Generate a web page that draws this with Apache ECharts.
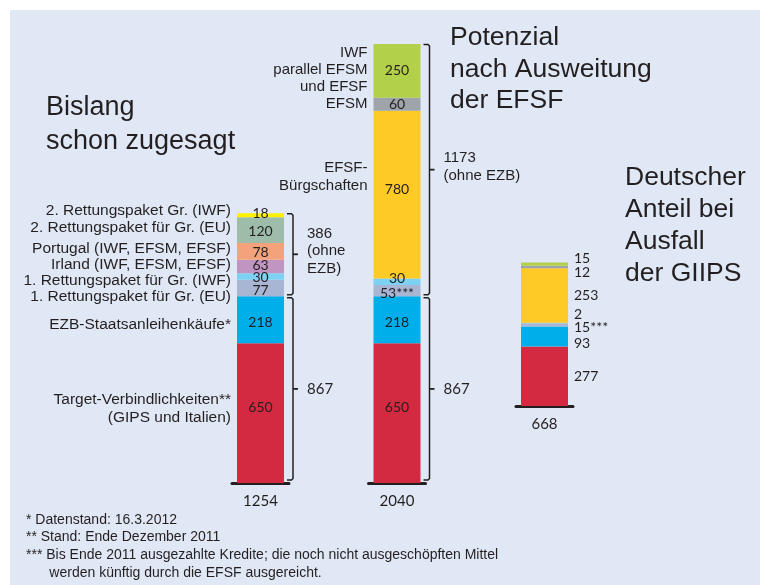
<!DOCTYPE html>
<html><head><meta charset="utf-8">
<script src="https://cdn.jsdelivr.net/npm/echarts@6/dist/echarts.min.js"></script>
<style>
html,body{margin:0;padding:0;background:#fff;}
#bg{position:absolute;left:10px;top:10px;width:750px;height:575px;background:#e0e8f5;}
#c{position:absolute;left:0;top:0;width:760px;height:585px;}
</style></head>
<body><div id="bg"></div><div id="c"></div>
<script>
// ---------- data ----------
const barTotals = ['1254', '2040', '668'];

const bar1Names = ['Target-Verbindlichkeiten**\n(GIPS und Italien)', 'EZB-Staatsanleihenkäufe*',
  '1. Rettungspaket für Gr. (EU)', '1. Rettungspaket für Gr. (IWF)', 'Irland (IWF, EFSM, EFSF)',
  'Portugal (IWF, EFSM, EFSF)', '2. Rettungspaket für Gr. (EU)', '2. Rettungspaket Gr. (IWF)'];
const bar1Values = [650, 218, 77, 30, 63, 78, 120, 18];
const bar1Labels = ['650', '218', '77', '30', '63', '78', '120', '18'];

const bar2Names = ['', '', '', '', 'EFSF-\nBürgschaften', 'EFSM', 'IWF\nparallel EFSM\nund EFSF'];
const bar2Values = [650, 218, 53, 30, 780, 60, 250];
const bar2Labels = ['650', '218', '53***', '30', '780', '60', '250'];

const bar3Values = [277, 93, 15, 2, 253, 12, 15];
const bar3Labels = ['277', '93', '15***', '2', '253', '12', '15'];

// brace groups: segment index ranges [from, to) and their text
const bar1Braces = [{from: 0, to: 2, text: '867'}, {from: 2, to: 8, text: '386\n(ohne\nEZB)'}];
const bar2Braces = [{from: 0, to: 2, text: '867'}, {from: 2, to: 7, text: '1173\n(ohne EZB)'}];

const titleLeft = 'Bislang\nschon zugesagt';
const titleMid = 'Potenzial\nnach Ausweitung\nder EFSF';
const titleRight = 'Deutscher\nAnteil bei\nAusfall\nder GIIPS';
const footnotes = ['* Datenstand: 16.3.2012', '** Stand: Ende Dezember 2011',
  '*** Bis Ende 2011 ausgezahlte Kredite; die noch nicht ausgeschöpften Mittel',
  '      werden künftig durch die EFSF ausgereicht.'];

// ---------- styles / layout ----------
const bar1Colors = ['#d32a41', '#00aee9', '#a8b5d3', '#7dd2f3', '#c195c2', '#f3a27b', '#9dbca9', '#fff100'];
const bar2Colors = ['#d32a41', '#00aee9', '#a8b5d3', '#7dd2f3', '#fdca26', '#9fa3aa', '#b2d04a'];
const bar3Colors = ['#d32a41', '#00aee9', '#a8b5d3', '#7dd2f3', '#fdca26', '#9fa3aa', '#b2d04a'];
const bar1ValDy = [-6, 3, 2, 1, -1, 1, 1, -2];
const bar2ValDy = [-6, 3, 3, -3, -5, 0, 0];
const bar3ValDy = [0, 7, 3, -8, 0, 5, -6];
const bar1NameDy = [-4, 5, 9, 4, -2, -3, -2, -4];
const bar2NameDy = [0, 0, 0, 0, -18, 0, -1];

const TXT = '#231f20';
const SANS = '"Liberation Sans", Arial, sans-serif';
const NUM = 'Lato, sans-serif';
const K = 439 / 2041;          // px per unit
const BAR_W = 47;
const gridDefs = [
  {center: 260.5, base: 483, values: bar1Values},
  {center: 397, base: 483, values: bar2Values},
  {center: 544.5, base: 406, values: bar3Values}
];
const sum = a => a.reduce((s, v) => s + v, 0);

const grids = [], xAxes = [], yAxes = [], series = [];
gridDefs.forEach((g, gi) => {
  const total = sum(g.values);
  const h = total * K;
  grids.push({left: g.center - 28.5, width: 57, top: g.base - h, height: h});
  xAxes.push({type: 'category', gridIndex: gi, data: [barTotals[gi]],
    axisLine: {show: true, lineStyle: {color: TXT, width: 3}},
    axisTick: {show: false},
    axisLabel: {fontFamily: NUM, fontSize: 15, color: TXT, margin: 11}});
  yAxes.push({type: 'value', gridIndex: gi, min: 0, max: total, show: false, splitLine: {show: false}});
});

function addSeries(gi, values, labels, colors, dys, pos) {
  values.forEach((v, i) => {
    series.push({
      type: 'bar', xAxisIndex: gi, yAxisIndex: gi, stack: 's' + gi, barWidth: BAR_W,
      data: [v], itemStyle: {color: colors[i]}, z: 2,
      label: {show: true, position: pos, distance: 6, formatter: labels[i],
        fontFamily: NUM, fontSize: 14, color: TXT, offset: [0, dys[i]]},
      emphasis: {disabled: true}, animation: false
    });
  });
}
addSeries(0, bar1Values, bar1Labels, bar1Colors, bar1ValDy, 'inside');
addSeries(1, bar2Values, bar2Labels, bar2Colors, bar2ValDy, 'inside');
addSeries(2, bar3Values, bar3Labels, bar3Colors, bar3ValDy, 'right');

const chart = echarts.init(document.getElementById('c'), null, {renderer: 'canvas'});
chart.setOption({
  backgroundColor: 'transparent', animation: false,
  grid: grids, xAxis: xAxes, yAxis: yAxes, series: series
});

// ---------- annotations ----------
const gfx = [];
function txt(x, y, text, o) {
  o = o || {};
  gfx.push({type: 'text', x: 0, y: 0, silent: true, z: 10, style: {
    text: text, x: x, y: y, fill: TXT,
    fontFamily: o.ff || SANS, fontSize: o.fs || 15, lineHeight: o.lh || 17,
    align: o.align || 'left', textAlign: o.align || 'left',
    verticalAlign: o.va || 'middle', textVerticalAlign: o.va || 'middle'}});
}
function cum(values, n) { return sum(values.slice(0, n)); }
function py(gi, v) { return chart.convertToPixel({gridIndex: gi}, [0, v])[1]; }

// left names
[[0, bar1Names, bar1Values, bar1NameDy, 15.5], [1, bar2Names, bar2Values, bar2NameDy, 15]].forEach(([gi, names, vals, dys, fs]) => {
  const xr = gridDefs[gi].center - BAR_W / 2 - 6;
  names.forEach((nm, i) => {
    if (!nm) return;
    const yc = (py(gi, cum(vals, i)) + py(gi, cum(vals, i + 1))) / 2 + dys[i];
    txt(xr, yc, nm, {align: 'right', fs: fs, lh: nm.split('\n').length > 2 ? 17 : 18});
  });
});

// braces
[[0, bar1Braces, bar1Values], [1, bar2Braces, bar2Values]].forEach(([gi, braces, vals]) => {
  const x = gridDefs[gi].center + BAR_W / 2 + 9;
  braces.forEach((b, bi) => {
    let y0 = py(gi, cum(vals, b.to)) + (b.to === vals.length ? 0.5 : 1.5);
    let y1 = py(gi, cum(vals, b.from)) - (b.from === 0 ? 3 : 1.5);
    gfx.push({type: 'polyline', silent: true, z: 10,
      shape: {points: [[x - 6, y0], [x - 1.5, y0], [x, y0 + 1.5], [x, y1 - 1.5], [x - 1.5, y1], [x - 6, y1]]},
      style: {stroke: TXT, lineWidth: 1.5, fill: null}});
    const ym = (y0 + y1) / 2;
    gfx.push({type: 'line', silent: true, z: 10,
      shape: {x1: x, y1: ym, x2: x + 5, y2: ym}, style: {stroke: TXT, lineWidth: 1.8}});
    const isNum = /^\d+$/.test(b.text);
    txt(x + 14, ym - (isNum ? 0 : 3), b.text, {ff: isNum ? NUM : SANS, fs: 15, lh: 17.5});
  });
});

// titles
txt(46, 91, titleLeft, {fs: 27, lh: 34, va: 'top'});
txt(450, 22, titleMid, {fs: 26.5, lh: 31.5, va: 'top'});
txt(625, 162, titleRight, {fs: 26.5, lh: 32, va: 'top'});

// footnotes
footnotes.forEach((f, i) => txt(26, 520 + i * 17.6, f, {fs: 14}));

chart.setOption({graphic: {elements: gfx}});
</script>
</body></html>
